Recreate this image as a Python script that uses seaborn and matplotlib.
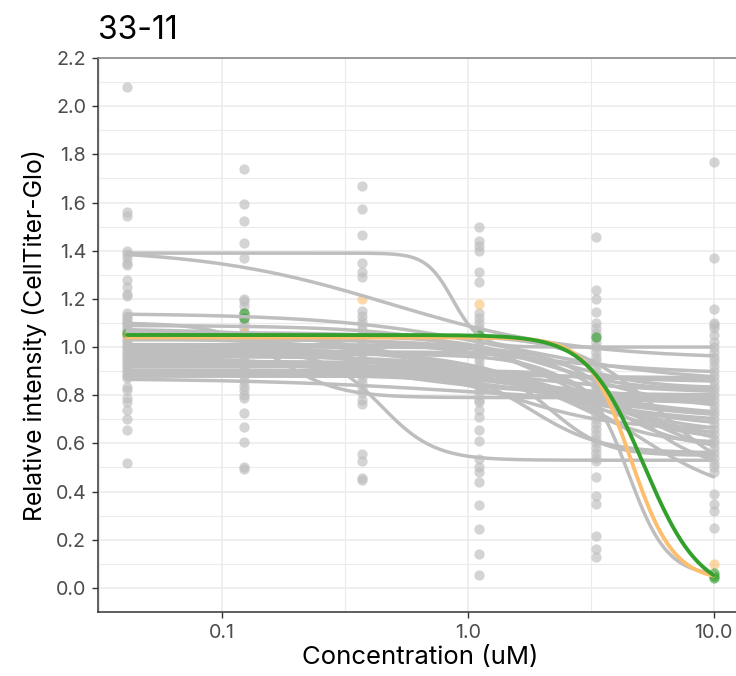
import numpy as np
import pandas as pd
import matplotlib
matplotlib.use("Agg")
import matplotlib.pyplot as plt
import matplotlib.ticker as mticker
import seaborn as sns

# ---- dose series (uM) -------------------------------------------------------
conc = [0.0412, 0.123, 0.370, 1.11, 3.33, 10.0]

# ---- measured responses, grey cell lines, one list per dose -----------------
resp_c0 = [2.08, 1.56, 1.545, 1.40, 1.385, 1.37, 1.35, 1.34, 1.28, 1.25, 1.22, 1.21,
           1.14, 1.13, 1.12, 1.11, 1.10, 1.09, 1.08, 1.07, 1.06, 1.05, 1.04, 1.03,
           1.02, 1.01, 1.00, 0.99, 0.98, 0.97, 0.96, 0.95, 0.94, 0.93, 0.92, 0.91,
           0.90, 0.89, 0.88, 0.87, 0.835, 0.82, 0.79, 0.77, 0.74, 0.70, 0.655, 0.52]
resp_c1 = [1.74, 1.595, 1.525, 1.43, 1.37, 1.20, 1.19, 1.17, 1.14, 1.12, 1.10, 1.08,
           1.06, 1.04, 1.02, 1.00, 0.98, 0.96, 0.94, 0.92, 0.90, 0.88, 0.86, 0.84,
           0.82, 0.80, 0.79, 0.725, 0.67, 0.605, 0.50, 0.495]
resp_c2 = [1.67, 1.575, 1.465, 1.35, 1.31, 1.29, 1.15, 1.13, 1.11, 1.09, 1.07, 1.05,
           1.03, 1.01, 0.99, 0.97, 0.95, 0.93, 0.91, 0.89, 0.87, 0.85, 0.83, 0.81,
           0.78, 0.765, 0.555, 0.525, 0.455, 0.45]
resp_c3 = [1.50, 1.44, 1.42, 1.40, 1.31, 1.27, 1.14, 1.12, 1.10, 1.08, 1.06, 1.04,
           1.02, 1.00, 0.98, 0.96, 0.94, 0.92, 0.90, 0.88, 0.86, 0.84, 0.82, 0.80,
           0.78, 0.77, 0.74, 0.71, 0.655, 0.61, 0.535, 0.50, 0.48, 0.44, 0.345, 0.245,
           0.14, 0.055]
resp_c4 = [1.455, 1.235, 1.20, 1.145, 1.10, 1.08, 1.06, 1.04, 1.02, 1.00, 0.98, 0.96,
           0.94, 0.92, 0.90, 0.88, 0.86, 0.84, 0.82, 0.80, 0.78, 0.76, 0.74, 0.72,
           0.70, 0.68, 0.66, 0.64, 0.62, 0.60, 0.58, 0.56, 0.54, 0.525, 0.46, 0.38,
           0.35, 0.215, 0.16, 0.13]
resp_c5 = [1.77, 1.37, 1.16, 1.10, 1.09, 1.08, 1.05, 1.02, 1.00, 0.98, 0.96, 0.94,
           0.92, 0.90, 0.88, 0.86, 0.84, 0.82, 0.80, 0.78, 0.76, 0.74, 0.72, 0.70,
           0.68, 0.66, 0.64, 0.62, 0.60, 0.58, 0.56, 0.54, 0.52, 0.50, 0.48, 0.39,
           0.35, 0.32, 0.25]

# ---- highlighted lines: measured points ------------------------------------
orange_conc = [0.0412, 0.123, 0.370, 1.11, 10.0]
orange_resp = [1.05, 1.06, 1.20, 1.18, 0.10]
green_conc = [0.0412, 0.123, 0.123, 1.11, 3.33, 10.0, 10.0, 10.0]
green_resp = [1.06, 1.14, 1.12, 1.05, 1.04, 0.06, 0.05, 0.04]

# ---- fitted 4-parameter logistic curves: top, bottom, EC50 (uM), Hill -------
grey_top = [1.39, 1.41, 1.14, 1.10, 0.98, 0.92, 0.90, 0.88, 1.09, 1.08,
            1.06, 1.04, 1.02, 1.01, 1.00, 0.99, 0.98, 0.97, 0.96, 0.95,
            0.94, 0.93, 0.92, 0.90, 0.89, 0.88, 0.87, 1.05, 1.00, 0.96,
            1.07, 1.03, 1.045, 0.985, 0.945, 0.905]
grey_bottom = [1.00, 0.95, 0.85, 0.79, 0.53, 0.56, 0.05, 0.37, 0.55, 0.88,
               0.62, 0.70, 0.80, 0.55, 0.66, 0.75, 0.83, 0.58, 0.72, 0.85,
               0.64, 0.78, 0.55, 0.87, 0.70, 0.60, 0.76, 0.42, 0.49, 0.80,
               0.68, 0.74, 0.82, 0.60, 0.77, 0.66]
grey_ec50 = [0.87, 0.48, 1.5, 0.17, 0.445, 1.8, 4.5, 5.0, 3.0, 1.0,
             2.5, 1.5, 0.8, 4.0, 2.0, 1.2, 3.0, 3.5, 2.0, 1.0,
             3.0, 1.5, 2.2, 1.0, 2.5, 3.0, 1.0, 6.0, 4.5, 0.5,
             1.2, 2.8, 2.0, 2.6, 0.9, 1.6]
grey_hill = [8.0, 1.15, 1.2, 3.5, 4.0, 3.0, 5.5, 2.2, 1.5, 1.0,
             2.0, 1.2, 1.0, 2.5, 1.5, 1.2, 3.0, 3.0, 2.0, 1.0,
             2.0, 1.5, 4.0, 1.0, 1.5, 3.0, 1.0, 2.5, 3.0, 1.5,
             1.3, 2.0, 2.5, 1.8, 1.2, 2.2]
orange_fit = (1.04, 0.03, 4.6, 5.0)
green_fit = (1.05, -0.03, 5.2, 3.8)

title = "33-11"
x_label = "Concentration (uM)"
y_label = "Relative intensity (CellTiter-Glo)"
x_ticks = [0.1, 1.0, 10.0]
x_tick_labels = ["0.1", "1.0", "10.0"]
y_ticks = [0.0, 0.2, 0.4, 0.6, 0.8, 1.0, 1.2, 1.4, 1.6, 1.8, 2.0, 2.2]

GREY = "#BEBEBE"
ORANGE = "#FDBF6F"
GREEN = "#33A02C"


def logistic(x, top, bottom, ec50, hill):
    return bottom + (top - bottom) / (1.0 + (x / ec50) ** hill)


# ---- tidy frames ------------------------------------------------------------
grey_pts = pd.DataFrame({
    "conc": np.concatenate([[c] * len(r) for c, r in zip(
        conc, [resp_c0, resp_c1, resp_c2, resp_c3, resp_c4, resp_c5])]),
    "resp": np.concatenate([resp_c0, resp_c1, resp_c2, resp_c3, resp_c4, resp_c5]),
})
orange_pts = pd.DataFrame({"conc": orange_conc, "resp": orange_resp})
green_pts = pd.DataFrame({"conc": green_conc, "resp": green_resp})

xs = np.logspace(np.log10(conc[0]), np.log10(conc[-1]), 200)
grey_curves = pd.concat([
    pd.DataFrame({"conc": xs, "resp": logistic(xs, t, b, e, h), "line": i})
    for i, (t, b, e, h) in enumerate(zip(grey_top, grey_bottom, grey_ec50, grey_hill))
])
orange_curve = pd.DataFrame({"conc": xs, "resp": logistic(xs, *orange_fit)})
green_curve = pd.DataFrame({"conc": xs, "resp": logistic(xs, *green_fit)})

# ---- figure -----------------------------------------------------------------
sns.set_theme(style="white")
plt.rcParams["font.family"] = ["Inter", "DejaVu Sans"]

fig = plt.figure(figsize=(7.36, 6.76), dpi=100)
ax = fig.add_axes([98 / 736, 1 - 612 / 676, (743 - 98) / 736, (612 - 58) / 676])
ax.set_xscale("log")

sns.scatterplot(data=grey_pts, x="conc", y="resp", ax=ax, color=GREY, alpha=0.65,
                s=55, linewidth=0, zorder=2)
sns.scatterplot(data=orange_pts, x="conc", y="resp", ax=ax, color=ORANGE, alpha=0.6,
                s=55, linewidth=0, zorder=2)
sns.scatterplot(data=green_pts, x="conc", y="resp", ax=ax, color=GREEN, alpha=0.6,
                s=55, linewidth=0, zorder=2)

sns.lineplot(data=grey_curves, x="conc", y="resp", units="line", estimator=None,
             ax=ax, color=GREY, linewidth=2.5, zorder=3)
sns.lineplot(data=orange_curve, x="conc", y="resp", ax=ax, color=ORANGE,
             linewidth=2.8, zorder=4)
sns.lineplot(data=green_curve, x="conc", y="resp", ax=ax, color=GREEN,
             linewidth=2.8, zorder=5)

# ---- axes styling -----------------------------------------------------------
lo, hi = np.log10(conc[0]), np.log10(conc[-1])
pad = 0.05 * (hi - lo)
ax.set_xlim(10 ** (lo - pad), 10 ** (hi + pad))
ax.set_ylim(-0.1, 2.2)

ax.set_xticks(x_ticks)
ax.set_xticklabels(x_tick_labels)
ax.xaxis.set_minor_locator(mticker.FixedLocator([10 ** -1.5, 10 ** -0.5, 10 ** 0.5]))
ax.xaxis.set_minor_formatter(mticker.NullFormatter())
ax.set_yticks(y_ticks)
ax.set_yticklabels([f"{v:.1f}" for v in y_ticks])
ax.yaxis.set_minor_locator(mticker.MultipleLocator(0.1))

ax.grid(which="major", color="#EBEBEB", linewidth=1.1, zorder=0)
ax.grid(which="minor", color="#EBEBEB", linewidth=0.8, zorder=0)
ax.set_axisbelow(True)

ax.tick_params(axis="both", which="major", direction="out", length=4.5, width=1.0,
               color="#333333", labelcolor="#4D4D4D", labelsize=14.2, pad=4,
               bottom=True, left=True)
ax.tick_params(axis="both", which="minor", length=0)

for side in ("left", "bottom"):
    ax.spines[side].set_color("#333333")
    ax.spines[side].set_linewidth(1.1)
for side in ("top", "right"):
    ax.spines[side].set_color("#7F7F7F")
    ax.spines[side].set_linewidth(1.1)

ax.set_xlabel(x_label, fontsize=18.5, color="black", labelpad=3)
ax.set_ylabel(y_label, fontsize=17.8, color="black", labelpad=6)
ax.set_title(title, fontsize=23, loc="left", pad=14, color="black")

fig.savefig("out.png", dpi=100)
